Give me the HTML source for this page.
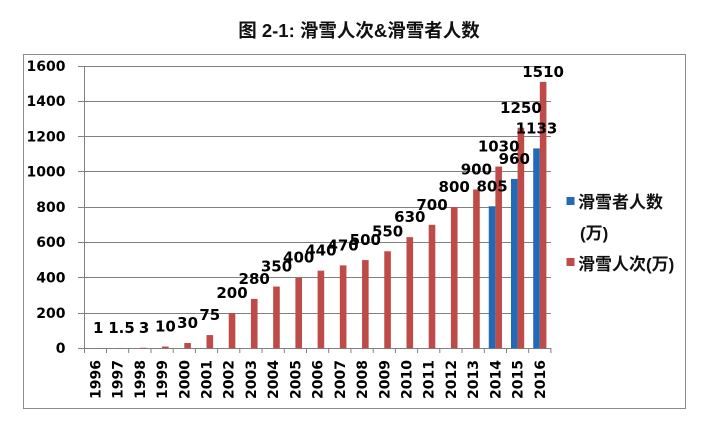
<!DOCTYPE html>
<html>
<head>
<meta charset="utf-8">
<style>
html,body{margin:0;padding:0;background:#fff;}
svg{display:block;}
.yl{font-family:"DejaVu Sans","Liberation Sans",sans-serif;font-weight:bold;font-size:14px;fill:#000;}
.xl{font-family:"DejaVu Sans","Liberation Sans",sans-serif;font-weight:bold;font-size:14px;fill:#000;}
.dl{font-family:"DejaVu Sans","Liberation Sans",sans-serif;font-weight:bold;font-size:15px;fill:#000;}
.tt{font-family:"Liberation Sans","Noto Sans CJK SC",sans-serif;font-weight:bold;font-size:18.5px;fill:#111;}
.lg{font-family:"Liberation Sans","Noto Sans CJK SC",sans-serif;font-weight:bold;font-size:17px;fill:#111;}
</style>
</head>
<body>
<svg width="714" height="427" viewBox="0 0 714 427" xmlns="http://www.w3.org/2000/svg">
<rect x="0" y="0" width="714" height="427" fill="#fff"/>
<text class="tt" x="359" y="37" text-anchor="middle">图 2-1: 滑雪人次&amp;滑雪者人数</text>
<rect x="23.5" y="54.5" width="662" height="354" fill="#fff" stroke="#8c8c8c" stroke-width="1"/>

<!-- gridlines -->
<g stroke="#808080" stroke-width="1">
<line x1="78" y1="66.5" x2="551" y2="66.5"/>
<line x1="78" y1="101.5" x2="551" y2="101.5"/>
<line x1="78" y1="136.5" x2="551" y2="136.5"/>
<line x1="78" y1="171.5" x2="551" y2="171.5"/>
<line x1="78" y1="207.5" x2="551" y2="207.5"/>
<line x1="78" y1="242.5" x2="551" y2="242.5"/>
<line x1="78" y1="277.5" x2="551" y2="277.5"/>
<line x1="78" y1="313.5" x2="551" y2="313.5"/>
<line x1="78" y1="348.5" x2="551" y2="348.5"/>
<line x1="84.5" y1="66" x2="84.5" y2="353"/>
</g>
<g stroke="#808080" stroke-width="1">
<line x1="106.5" y1="348" x2="106.5" y2="353"/>
<line x1="128.7" y1="348" x2="128.7" y2="353"/>
<line x1="151" y1="348" x2="151" y2="353"/>
<line x1="173.2" y1="348" x2="173.2" y2="353"/>
<line x1="195.4" y1="348" x2="195.4" y2="353"/>
<line x1="217.6" y1="348" x2="217.6" y2="353"/>
<line x1="239.8" y1="348" x2="239.8" y2="353"/>
<line x1="262" y1="348" x2="262" y2="353"/>
<line x1="284.3" y1="348" x2="284.3" y2="353"/>
<line x1="306.5" y1="348" x2="306.5" y2="353"/>
<line x1="328.7" y1="348" x2="328.7" y2="353"/>
<line x1="350.9" y1="348" x2="350.9" y2="353"/>
<line x1="373.2" y1="348" x2="373.2" y2="353"/>
<line x1="395.4" y1="348" x2="395.4" y2="353"/>
<line x1="417.6" y1="348" x2="417.6" y2="353"/>
<line x1="439.8" y1="348" x2="439.8" y2="353"/>
<line x1="462" y1="348" x2="462" y2="353"/>
<line x1="484.3" y1="348" x2="484.3" y2="353"/>
<line x1="506.5" y1="348" x2="506.5" y2="353"/>
<line x1="528.7" y1="348" x2="528.7" y2="353"/>
<line x1="550.9" y1="348" x2="550.9" y2="353"/>
</g>

<!-- y labels -->
<g class="yl" text-anchor="end">
<text x="65.5" y="71">1600</text>
<text x="65.5" y="106">1400</text>
<text x="65.5" y="141.5">1200</text>
<text x="65.5" y="176.5">1000</text>
<text x="65.5" y="212">800</text>
<text x="65.5" y="247">600</text>
<text x="65.5" y="282.5">400</text>
<text x="65.5" y="318">200</text>
<text x="65.5" y="353">0</text>
</g>

<!-- red bars -->
<g fill="#BE4B48">
<rect x="95.41" y="348.12" width="6.6" height="0.3"/>
<rect x="117.63" y="348.04" width="6.6" height="0.4"/>
<rect x="139.85" y="347.77" width="6.6" height="0.6"/>
<rect x="162.07" y="346.54" width="6.6" height="1.76"/>
<rect x="184.29" y="343.01" width="6.6" height="5.29"/>
<rect x="206.51" y="335.07" width="6.6" height="13.23"/>
<rect x="228.73" y="313.01" width="6.6" height="35.29"/>
<rect x="250.95" y="298.90" width="6.6" height="49.40"/>
<rect x="273.17" y="286.55" width="6.6" height="61.75"/>
<rect x="295.39" y="277.72" width="6.6" height="70.58"/>
<rect x="317.61" y="270.67" width="6.6" height="77.63"/>
<rect x="339.83" y="265.37" width="6.6" height="82.93"/>
<rect x="362.05" y="260.08" width="6.6" height="88.22"/>
<rect x="384.27" y="251.26" width="6.6" height="97.04"/>
<rect x="406.49" y="237.14" width="6.6" height="111.16"/>
<rect x="428.71" y="224.79" width="6.6" height="123.51"/>
<rect x="450.93" y="207.15" width="6.6" height="141.15"/>
<rect x="473.15" y="189.50" width="6.6" height="158.80"/>
<rect x="495.37" y="166.57" width="6.6" height="181.73"/>
<rect x="517.59" y="127.75" width="6.6" height="220.55"/>
<rect x="539.81" y="81.88" width="6.6" height="266.42"/>
</g>
<!-- blue bars -->
<g fill="#2469B6">
<rect x="488.77" y="206.27" width="6.6" height="142.03"/>
<rect x="510.99" y="178.92" width="6.6" height="169.38"/>
<rect x="533.21" y="148.40" width="6.6" height="199.90"/>
</g>

<!-- data labels -->
<g class="dl" text-anchor="middle">
<text x="98.2" y="333.1">1</text>
<text x="121.5" y="333">1.5</text>
<text x="144.1" y="332.8">3</text>
<text x="165.4" y="331.5">10</text>
<text x="187.6" y="328">30</text>
<text x="209.8" y="320.1">75</text>
<text x="232" y="298">200</text>
<text x="254.2" y="283.9">280</text>
<text x="276.5" y="271.5">350</text>
<text x="298.7" y="262.7">400</text>
<text x="320.9" y="255.7">440</text>
<text x="343.1" y="250.4">470</text>
<text x="365.3" y="245.1">500</text>
<text x="387.6" y="236.3">550</text>
<text x="409.8" y="222.1">630</text>
<text x="432" y="209.8">700</text>
<text x="454.2" y="192.1">800</text>
<text x="476.4" y="174.5">900</text>
<text x="498.7" y="151.6">1030</text>
<text x="520.9" y="112.8">1250</text>
<text x="543.1" y="77">1510</text>
<text x="492.1" y="191.3">805</text>
<text x="514.3" y="164">960</text>
<text x="536.5" y="133.4">1133</text>
</g>

<!-- x labels -->
<g class="xl" text-anchor="end">
<text transform="translate(100.4,360) rotate(-90)">1996</text>
<text transform="translate(122.6,360) rotate(-90)">1997</text>
<text transform="translate(144.9,360) rotate(-90)">1998</text>
<text transform="translate(167.1,360) rotate(-90)">1999</text>
<text transform="translate(189.3,360) rotate(-90)">2000</text>
<text transform="translate(211.5,360) rotate(-90)">2001</text>
<text transform="translate(233.7,360) rotate(-90)">2002</text>
<text transform="translate(256,360) rotate(-90)">2003</text>
<text transform="translate(278.2,360) rotate(-90)">2004</text>
<text transform="translate(300.4,360) rotate(-90)">2005</text>
<text transform="translate(322.6,360) rotate(-90)">2006</text>
<text transform="translate(344.8,360) rotate(-90)">2007</text>
<text transform="translate(367.1,360) rotate(-90)">2008</text>
<text transform="translate(389.3,360) rotate(-90)">2009</text>
<text transform="translate(411.5,360) rotate(-90)">2010</text>
<text transform="translate(433.7,360) rotate(-90)">2011</text>
<text transform="translate(455.9,360) rotate(-90)">2012</text>
<text transform="translate(478.2,360) rotate(-90)">2013</text>
<text transform="translate(500.4,360) rotate(-90)">2014</text>
<text transform="translate(522.6,360) rotate(-90)">2015</text>
<text transform="translate(544.8,360) rotate(-90)">2016</text>
</g>

<!-- legend -->
<rect x="566.5" y="197" width="8" height="8" fill="#2469B6"/>
<text class="lg" x="578" y="208">滑雪者人数</text>
<text class="lg" x="580" y="239">(万)</text>
<rect x="566.5" y="258" width="8" height="8" fill="#BE4B48"/>
<text class="lg" x="578" y="270">滑雪人次(万)</text>
</svg>
</body>
</html>
